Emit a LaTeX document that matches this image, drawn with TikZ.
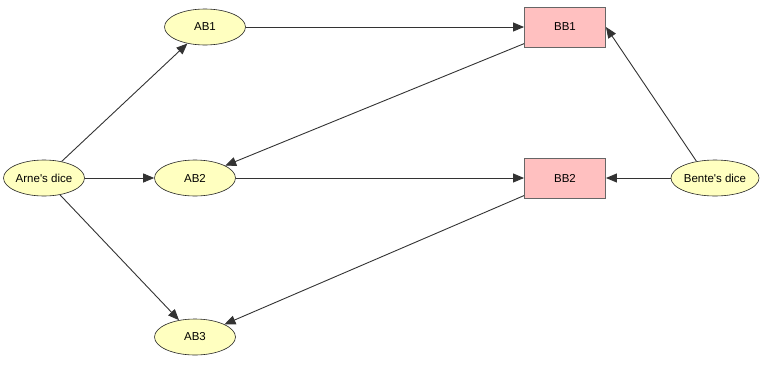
\documentclass[tikz,border=0pt]{standalone}
\usepackage{fontspec}
\setmainfont{Liberation Sans}
\usepackage{tikz}
\usetikzlibrary{
    arrows.meta,      % For arrow tips
    shapes.geometric  % For ellipse nodes
}

\definecolor{chanceyellow}{HTML}{FFFFC0}
\definecolor{decisionpink}{HTML}{FFC0C0}

\begin{document}
\begin{tikzpicture}[
    x=1pt, y=-1pt,
    >={Triangle[length=11pt, width=9pt]}, % Default arrow tip
    chance/.style={ellipse, draw=black!85, fill=chanceyellow, line width=0.6pt,
        minimum width=81pt, minimum height=36pt, inner sep=0pt,
        font=\fontsize{11.5}{13}\selectfont},  % Yellow chance nodes
    decision/.style={rectangle, draw=black!60, fill=decisionpink, line width=0.9pt,
        minimum width=81pt, minimum height=40pt, inner sep=0pt,
        font=\fontsize{11.5}{13}\selectfont},  % Pink decision boxes
    link/.style={->, draw=black!80, line width=0.9pt} % Connectors
]
    % Canvas
    \useasboundingbox (0,0) rectangle (767,367);

    % Dice nodes
    \node[chance] (arne)  at (44,178)  {Arne\textquotesingle s dice};
    \node[chance] (bente) at (715,178) {Bente\textquotesingle s dice};

    % Arne's choices
    \node[chance] (ab1) at (205,27)  {AB1};
    \node[chance] (ab2) at (195,178) {AB2};
    \node[chance] (ab3) at (195,337) {AB3};

    % Bente's choices
    \node[decision] (bb1) at (565,27)  {BB1};
    \node[decision] (bb2) at (565,178) {BB2};

    % Links from the dice
    \draw[link] (arne) -- (ab1);
    \draw[link] (arne) -- (ab2);
    \draw[link] (arne) -- (ab3);
    \draw[link] (bente.138) -- (bb1.east);
    \draw[link] (bente) -- (bb2);

    % Links between the choices
    \draw[link] (ab1) -- (bb1);
    \draw[link] (ab2) -- (bb2);
    \draw[link] (bb1) -- (ab2);
    \draw[link] (bb2) -- (ab3);
\end{tikzpicture}
\end{document}
